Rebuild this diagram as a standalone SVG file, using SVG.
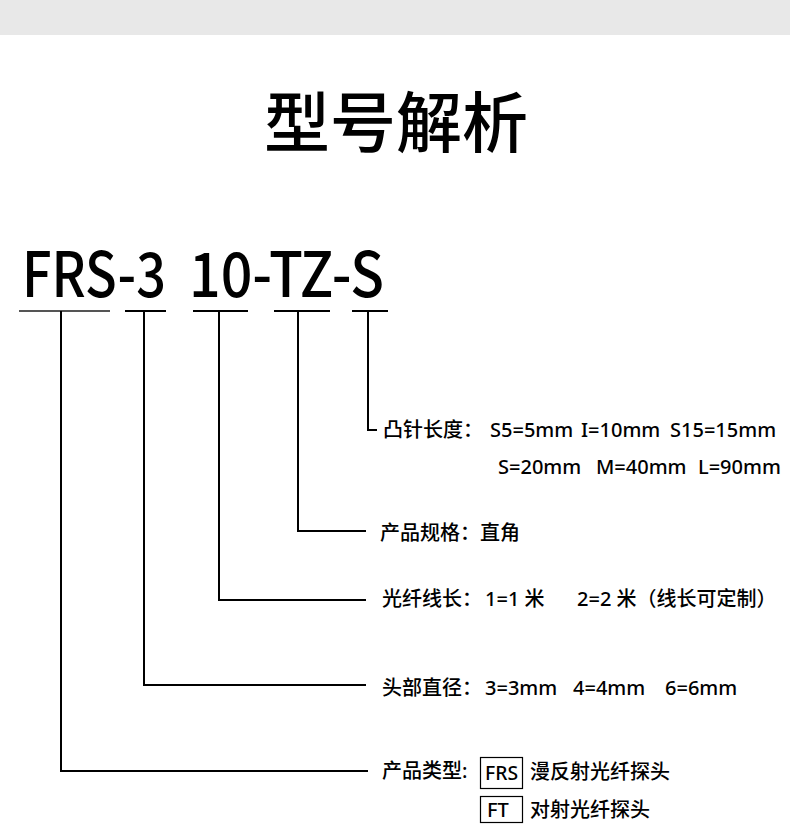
<svg xmlns="http://www.w3.org/2000/svg" width="790" height="838" viewBox="0 0 790 838">
<style>
.t{font-family:"Noto Sans CJK SC","Noto Sans",sans-serif;fill:#000}
.s{font-family:"Noto Sans","Noto Sans CJK SC",sans-serif;font-size:20px;font-weight:500;fill:#000}
.ln{fill:none;stroke:#000;stroke-width:2}
.box{fill:none;stroke:#000;stroke-width:1.2}
</style>
<rect x="0" y="0" width="790" height="35" fill="#e8e8e8"/>
<g id="title"><text class="t" x="396" y="147" font-size="66" font-weight="500" text-anchor="middle">型号解析</text></g>
<g id="code">
<text class="t" x="22" y="297" font-size="62" font-weight="500" textLength="144" lengthAdjust="spacingAndGlyphs">FRS-3</text>
<text class="t" x="189" y="297" font-size="62" font-weight="500" textLength="195" lengthAdjust="spacingAndGlyphs">10-TZ-S</text>
</g>
<g id="connectors">
<line x1="19" y1="311" x2="110" y2="311" stroke="#555" stroke-width="2"/>
<line class="ln" x1="125" y1="311" x2="166" y2="311"/>
<line class="ln" x1="193" y1="311" x2="248" y2="311"/>
<line class="ln" x1="274" y1="311" x2="330" y2="311"/>
<line class="ln" x1="352" y1="311" x2="388" y2="311"/>
<polyline class="ln" points="368,311 368,430 377,430"/>
<polyline class="ln" points="298,311 298,531 366,531"/>
<polyline class="ln" points="219,311 219,600 366,600"/>
<polyline class="ln" points="144,311 144,685 366,685"/>
<polyline class="ln" points="61,311 61,771 368,771"/>
</g>
<g id="pin-length">
<text class="s" x="383" y="437">凸针长度：</text>
<text class="s" x="490" y="437">S5=5mm</text>
<text class="s" x="581" y="437">I=10mm</text>
<text class="s" x="670" y="437">S15=15mm</text>
<text class="s" x="498" y="474">S=20mm</text>
<text class="s" x="596" y="474">M=40mm</text>
<text class="s" x="698" y="474">L=90mm</text>
</g>
<g id="spec">
<text class="s" x="380" y="540">产品规格：直角</text>
</g>
<g id="fiber-length">
<text class="s" x="382" y="606">光纤线长：</text>
<text class="s" x="485" y="606">1=1 米</text>
<text class="s" x="577" y="606">2=2 米（线长可定制）</text>
</g>
<g id="head-dia">
<text class="s" x="382" y="695">头部直径：</text>
<text class="s" x="485" y="695">3=3mm</text>
<text class="s" x="573" y="695">4=4mm</text>
<text class="s" x="665" y="695">6=6mm</text>
</g>
<g id="type">
<text class="s" x="382" y="778">产品类型:</text>
<rect class="box" x="480.5" y="757.5" width="42" height="31"/>
<text class="s" x="485" y="780" textLength="33" lengthAdjust="spacingAndGlyphs">FRS</text>
<text class="s" x="530" y="779">漫反射光纤探头</text>
<rect class="box" x="480.5" y="796.5" width="42" height="26"/>
<text class="s" x="487" y="817">FT</text>
<text class="s" x="530" y="817">对射光纤探头</text>
</g>
</svg>
